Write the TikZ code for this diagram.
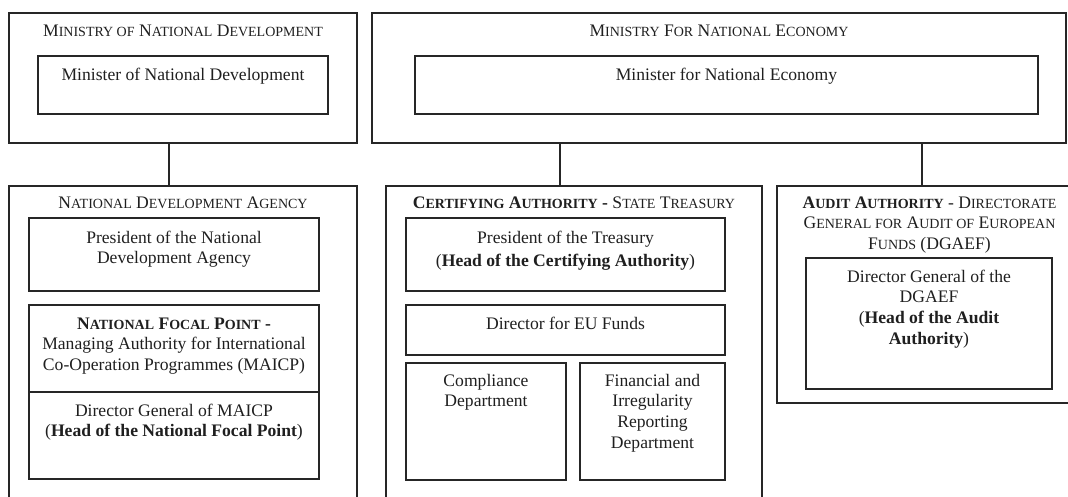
\documentclass[tikz,border=0pt]{standalone}
\usepackage{fontspec}
\setmainfont{Liberation Serif}
\usetikzlibrary{fit}
\newcommand{\sm}[1]{{\fontsize{14}{16}\selectfont #1}}
\tikzset{
  box/.style={draw=black!85, line width=1.2pt, inner sep=0pt},
  txt/.style={anchor=north, inner sep=0pt, align=center, text=black!88,
    font=\fontsize{17.6}{20.7}\selectfont},
  conn/.style={draw=black!85, line width=1.2pt},
}
\begin{document}
\begin{tikzpicture}[x=1pt, y=-1pt]
\useasboundingbox (0,0) rectangle (1068,497);
\clip (0,0) rectangle (1068,497);
% top boxes
\node[box, fit={(9,13) (357,143)}] (mnd) {};
\node[box, fit={(38,56) (328,114)}] (mndin) {};
\node[box, fit={(372,13) (1066,143)}] (mne) {};
\node[box, fit={(415,56) (1038,114)}] (mnein) {};
% bottom outer boxes
\node[box, fit={(9,186) (357,530)}] (nda) {};
\node[box, fit={(386,186) (762,530)}] (ca) {};
\node[box, fit={(777,186) (1082,403)}] (aa) {};
% NDA inner
\node[box, fit={(29,218) (319,291)}] (ndapres) {};
\node[box, fit={(29,305) (319,392)}] (nfp) {};
\node[box, fit={(29,392) (319,479)}] (dg) {};
% CA inner
\node[box, fit={(406,218) (725,291)}] (capres) {};
\node[box, fit={(406,305) (725,355)}] (eu) {};
\node[box, fit={(406,363) (566,480)}] (compl) {};
\node[box, fit={(580,363) (725,480)}] (fin) {};
% AA inner
\node[box, fit={(806,258) (1052,389)}] (aain) {};
% texts
\node[txt] (tmnd) at (183,21.5) {\strut M\sm{INISTRY OF} N\sm{ATIONAL} D\sm{EVELOPMENT}};
\node[txt] (tmndin) at (183,65.5) {\strut Minister of National Development};
\node[txt] (tmne) at (719,21.5) {\strut M\sm{INISTRY} F\sm{OR} N\sm{ATIONAL} E\sm{CONOMY}};
\node[txt] (tmnein) at (726.5,65.5) {\strut Minister for National Economy};
\node[txt] (tnda) at (183,193.5) {\strut N\sm{ATIONAL} D\sm{EVELOPMENT} A\sm{GENCY}};
\node[txt] (tndapres) at (174,228.5) {\strut President of the National\\Development Agency};
\node[txt] (tnfp) at (174,314.5) {\strut\textbf{N\sm{ATIONAL} F\sm{OCAL} P\sm{OINT} -}\\Managing Authority for International\\Co-Operation Programmes (MAICP)};
\node[txt] (tdg) at (174,401.5) {\strut Director General of MAICP\\(\textbf{Head of the National Focal Point})};
\node[txt] (tca) at (574,193.5) {\strut\textbf{C\sm{ERTIFYING} A\sm{UTHORITY} -} S\sm{TATE} T\sm{REASURY}};
\node[txt] (tcapres) at (565.5,228.5) {\strut President of the Treasury\\[2.3pt](\textbf{Head of the Certifying Authority})};
\node[txt] (teu) at (565.5,314.5) {\strut Director for EU Funds};
\node[txt] (tcompl) at (486,371.5) {\strut Compliance\\Department};
\node[txt] (tfin) at (652.5,371.5) {\strut Financial and\\Irregularity\\Reporting\\Department};
\node[txt] (taa) at (929.5,193.5) {\strut\textbf{A\sm{UDIT} A\sm{UTHORITY}} - D\sm{IRECTORATE}\\G\sm{ENERAL FOR} A\sm{UDIT OF} E\sm{UROPEAN}\\F\sm{UNDS} (DGAEF)};
\node[txt] (taain) at (929,267.5) {\strut Director General of the\\DGAEF\\(\textbf{Head of the Audit}\\\textbf{Authority})};
% connectors
\coordinate (k1) at (169,0);
\coordinate (k2) at (560,0);
\coordinate (k3) at (922,0);
\draw[conn] (mnd.south -| k1) -- (nda.north -| k1);
\draw[conn] (mne.south -| k2) -- (ca.north -| k2);
\draw[conn] (mne.south -| k3) -- (aa.north -| k3);
\end{tikzpicture}
\end{document}
